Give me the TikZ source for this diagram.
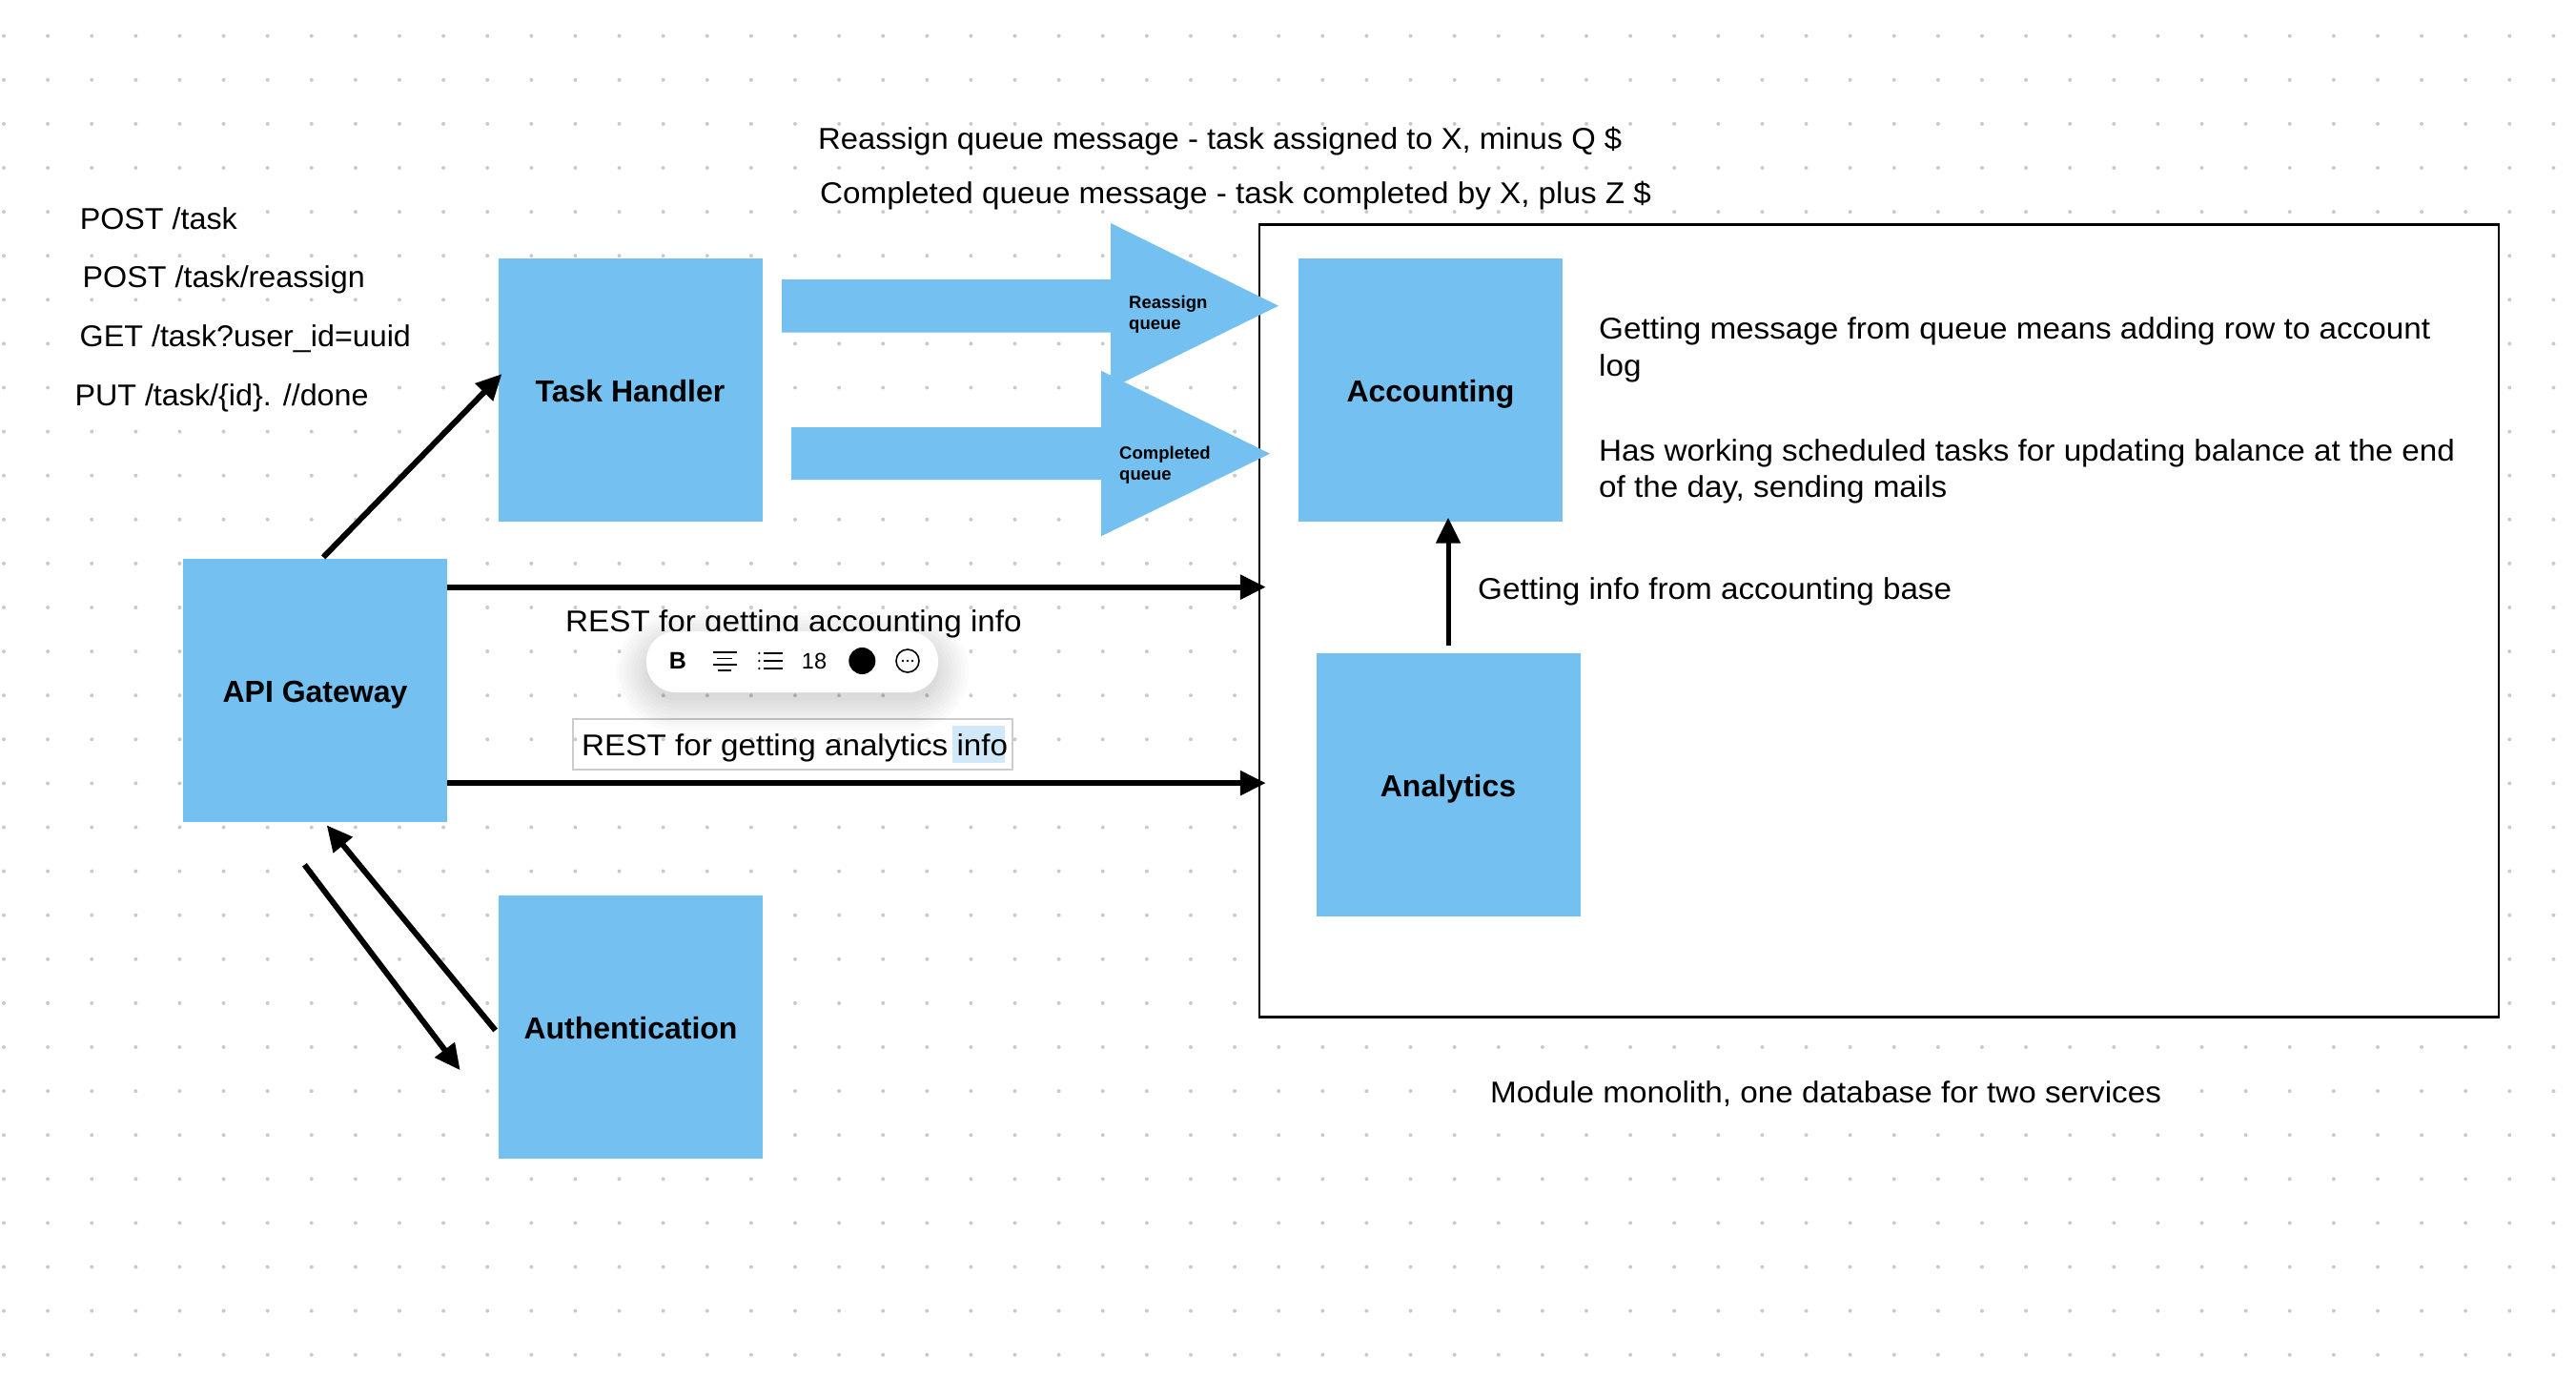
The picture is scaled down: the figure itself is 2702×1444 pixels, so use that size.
\documentclass[tikz,border=0pt]{standalone}
\usepackage{fontspec}
\setmainfont{Liberation Sans}
\newfontfamily\wideface[FakeStretch=1.055]{Liberation Sans}
\newfontfamily\msgface[FakeStretch=1.04]{Liberation Sans}
\newfontfamily\apiface[FakeStretch=1.025]{Liberation Sans}
\usetikzlibrary{arrows.meta, calc}
\definecolor{boxblue}{HTML}{74C1F1}
\definecolor{griddot}{HTML}{CACACA}
\definecolor{selblue}{HTML}{D0E8F7}
\definecolor{selgray}{HTML}{CCCCCC}
\newcommand{\txtfont}{\fontsize{31.5}{38.7}\selectfont\wideface}
\newcommand{\boxfont}{\fontsize{32}{38}\selectfont\bfseries}
\newcommand{\tagfont}{\fontsize{18.5}{22}\selectfont\bfseries}
\tikzset{
    servicebox/.style={fill=boxblue, minimum width=277pt, minimum height=276pt, inner sep=0pt, text height=25pt, text depth=0pt, font=\boxfont},
    lbl/.style={anchor=base west, inner sep=0pt, font=\txtfont, align=left},
    lblbg/.style={lbl, fill=white, inner sep=2pt, xshift=-2pt},
    apilbl/.style={lblbg, font=\fontsize{31.5}{38.7}\selectfont\apiface},
    tag/.style={anchor=north west, inner sep=0pt, font=\tagfont, align=left},
    flow/.style={line width=6pt, -{Triangle[length=27pt, width=25pt]}},
}

\begin{document}
\begin{tikzpicture}[x=1pt, y=-1pt]
    \useasboundingbox (0,0) rectangle (2702,1444);
    \fill[white] (0,0) rectangle (2702,1444);
    % canvas dots
    \foreach \i in {0,...,58} {
      \foreach \j in {0,...,30} {
        \fill[griddot] ({4+46.11*\i},{37.7+46.1*\j}) circle (2);
      }
    }
    % monolith frame
    \node[draw=black, fill=white, line width=2.5pt, minimum width=1300pt, minimum height=831pt, inner sep=0pt] (mono) at (1971,651) {};

    \node[servicebox] (task) at (661,408.5) {Task Handler};
    \node[servicebox] (api) at (330.5,724) {API Gateway};
    \node[servicebox] (auth) at (661.5,1077) {Authentication};
    \node[servicebox] (accounting) at (1500.5,408.5) {Accounting};
    \node[servicebox] (analytics) at (1519,823) {Analytics};

    % queue arrows
    \fill[boxblue] (820,293) -- (1165,293) -- (1165,234) -- (1341,320.7)
      -- (1165,407.4) -- (1165,348.7) -- (820,348.7) -- cycle;
    \fill[boxblue] (830,448) -- (1155,448) -- (1155,388.7) -- (1332,475.7)
      -- (1155,562.3) -- (1155,503) -- (830,503) -- cycle;
    \node[tag] (reassigntag) at (1184,310) {Reassign\\queue};
    \node[tag] (completedtag) at (1174,468) {Completed\\queue};

    \draw[flow, shorten <=2pt, shorten >=-6pt] (api.87) -- (task.175);
    \draw[flow, shorten >=-8pt] (api.38) -- (api.38 -| mono.west);
    \draw[flow, shorten >=-8pt] (api.325) -- (api.325 -| mono.west);
    \draw[flow, shorten <=5pt, shorten >=4pt] (auth.183) -- (api.274);
    \coordinate (authin) at (482.7,1122.3);
    \draw[flow, shorten <=56pt] (api.252) -- (authin);
    \draw[flow, line width=5pt, shorten <=8pt, shorten >=-4pt] (analytics.north) -- (analytics.north |- accounting.south);

    \node[apilbl] (posttask) at (83.6,240) {POST /task};
    \node[apilbl] (postreassign) at (86.5,301.7) {POST /task/reassign};
    \node[apilbl] (gettask) at (83.5,363) {GET /task?user\_id=uuid};
    \node[apilbl] (puttask) at (78.3,425) {PUT /task/\{id\}. //done};
    \node[lbl, font=\fontsize{31.5}{38.7}\selectfont\msgface] (reassignmsg) at (858,156.7) {Reassign queue message - task assigned to X, minus Q \$};
    \node[lbl] (completedmsg) at (860,213.5) {Completed queue message - task completed by X, plus Z \$};
    \node[lbl] (getmsg) at (1677,394.3) {Getting message from queue means adding row to account\\log};
    \node[lbl] (sched) at (1677,521.7) {Has working scheduled tasks for updating balance at the end\\of the day, sending mails};
    \node[lbl] (getinfo) at (1550,628) {Getting info from accounting base};
    \node[lblbg] (modmono) at (1563,1156) {Module monolith, one database for two services};
    \node[lbl] (restacc) at (593,662) {REST for getting accounting info};

    % text being edited
    \fill[selblue] (999,761) rectangle (1054,800);
    \draw[selgray, line width=2pt] (600.7,754) rectangle (1062,807);
    \node[lbl] (restana) at (610,792.3) {REST for getting analytics info};

    % floating toolbar
    \foreach \g in {32,28,...,0} {
      \fill[black, opacity=0.014, rounded corners={(31+\g)*1pt}] ({678-\g},{674-\g}) rectangle ({984+\g},{734+\g});
    }
    \node[fill=white, rounded corners=31pt, minimum width=306pt, minimum height=64pt, inner sep=0pt] (toolbar) at (831,694) {};
    \node[font=\fontsize{25}{25}\selectfont\bfseries, inner sep=0pt] (boldbtn) at (711,693) {B};
    \foreach \y/\a/\b in {684/747.5/772.5, 690.5/752/768, 697/747.5/772.5, 703/753/767} {
      \draw[line width=1.6pt] (\a,\y) -- (\b,\y);
    }
    \foreach \y in {685,693,701} {
      \fill (796.4,\y) circle (1.3);
      \draw[line width=1.6pt] (801.4,\y) -- (820.7,\y);
    }
    \node[font=\fontsize{23.5}{24}\selectfont, inner sep=0pt] (sizelbl) at (854,693) {18};
    \fill (904.3,693) circle (14);
    \draw[line width=1.6pt] (952,693) circle (12);
    \foreach \d in {-5,0,5} {
      \fill ({952+\d},693) circle (1.4);
    }
\end{tikzpicture}
\end{document}
